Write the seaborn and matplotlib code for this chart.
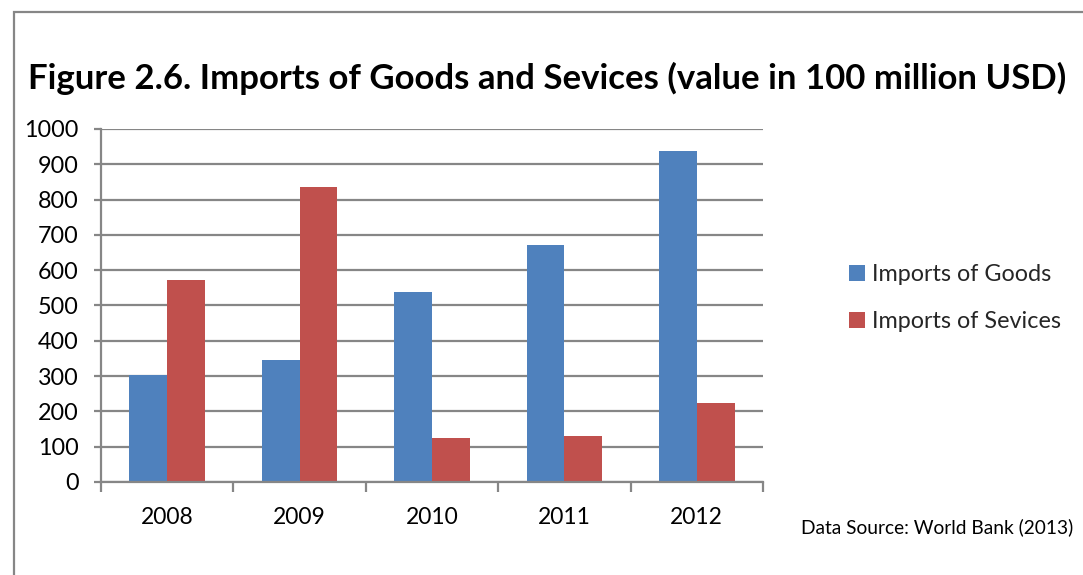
import matplotlib
matplotlib.use("Agg")
import matplotlib.pyplot as plt
import seaborn as sns
import pandas as pd
from matplotlib.patches import Rectangle, Patch
from matplotlib.ticker import FixedLocator, NullFormatter

years = ["2008", "2009", "2010", "2011", "2012"]
goods = [303, 346, 539, 670, 939]
services = [571, 835, 126, 129, 223]
series_names = ["Imports of Goods", "Imports of Sevices"]
y_ticks = [0, 100, 200, 300, 400, 500, 600, 700, 800, 900, 1000]

title = "Figure 2.6. Imports of Goods and Sevices (value in 100 million USD)"
source = "Data Source: World Bank (2013)"

colors = ["#4F81BD", "#C0504D"]
grid_col = "#868686"

sns.set_theme(style="white")
plt.rcParams["font.family"] = ["Lato", "DejaVu Sans"]

df = pd.DataFrame({
    "Year": years * 2,
    "Value": goods + services,
    "Series": [series_names[0]] * len(years) + [series_names[1]] * len(years),
})

W, H = 1083, 575
fig = plt.figure(figsize=(W / 100, H / 100), dpi=100)
ax = fig.add_axes([101 / W, 1 - 482 / H, (763 - 101) / W, (482 - 129) / H])

sns.barplot(data=df, x="Year", y="Value", hue="Series", order=years,
            hue_order=series_names, palette=colors, width=0.571,
            saturation=1, ax=ax, legend=False, edgecolor="none")

ax.set_ylim(0, 1000)
ax.set_xlim(-0.5, len(years) - 0.5)
ax.set_yticks(y_ticks)
ax.yaxis.grid(True, color=grid_col, linewidth=1.6)
ax.set_axisbelow(True)
ax.set_xlabel("")
ax.set_ylabel("")

for s in ["top", "right"]:
    ax.spines[s].set_visible(False)
for s in ["left", "bottom"]:
    ax.spines[s].set_color(grid_col)
    ax.spines[s].set_linewidth(1.6)

ax.tick_params(axis="y", which="major", left=True, length=5, width=1.6,
               color=grid_col, pad=11, labelsize=16.8, labelcolor="black")
ax.tick_params(axis="x", which="major", bottom=False, pad=12, labelsize=16.5,
               labelcolor="black")
ax.xaxis.set_minor_locator(FixedLocator([i - 0.5 for i in range(len(years) + 1)]))
ax.xaxis.set_minor_formatter(NullFormatter())
ax.tick_params(axis="x", which="minor", bottom=True, length=7, width=1.6,
               color=grid_col)

handles = [Patch(facecolor=c, edgecolor="none") for c in colors]
fig.legend(handles, series_names, loc="center left",
           bbox_to_anchor=(840 / W, 1 - 298 / H), frameon=False,
           fontsize=16.8, handlelength=0.68, handleheight=0.68,
           handletextpad=0.3, labelspacing=1.1, borderaxespad=0)

fig.text(0.5055, 1 - 78 / H, title, ha="center", va="center",
         fontsize=25, fontweight="bold", color="black")
fig.text(1073 / W, 1 - 527 / H, source, ha="right", va="center",
         fontsize=13.8, color="black")

fig.add_artist(Rectangle((14 / W, -0.1), 1.2, 1 - 12 / H + 0.1,
                         transform=fig.transFigure, fill=False,
                         edgecolor=grid_col, linewidth=1.6))

fig.savefig("out.png", dpi=100)
